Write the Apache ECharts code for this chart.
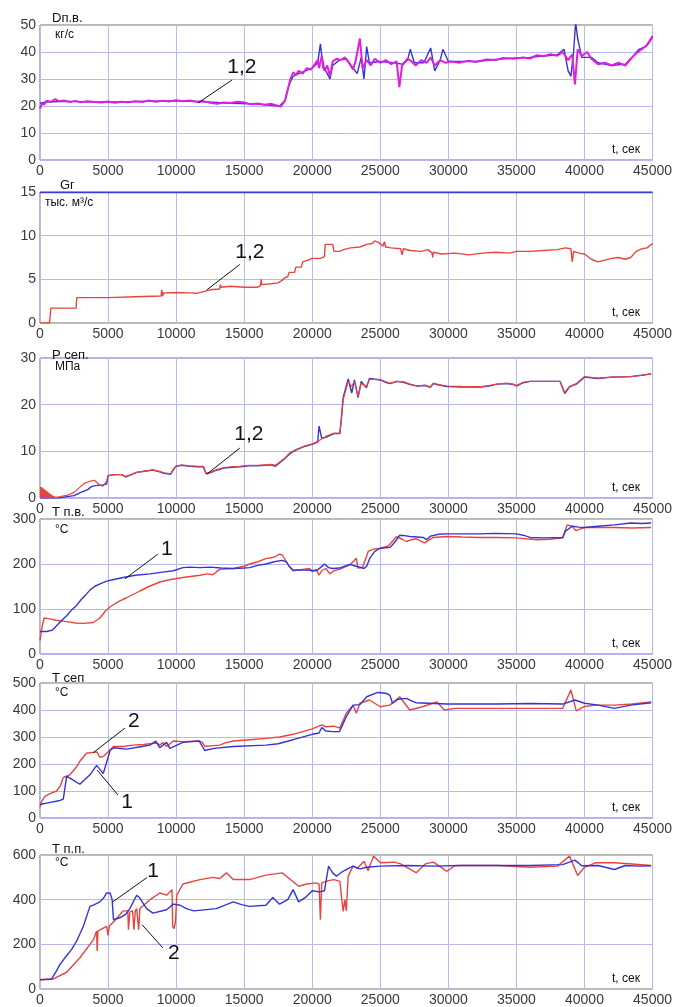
<!DOCTYPE html>
<html>
<head>
<meta charset="utf-8">
<script src="https://cdn.jsdelivr.net/npm/echarts@6/dist/echarts.min.js"></script>
<style>
html,body{margin:0;padding:0;background:#fff;}
#main{width:675px;height:1007px;}
</style>
</head>
<body>
<div id="main"></div>
<script>
// ось времени, сек
var tMax = 45000;
var tStep = 5000;

/* Dп.в., кг/с : 1 - синяя, 2 - малиновая */
var dpv1 = [[0,21],[500,21.5],[2000,21.7],[4000,21.5],[6000,21.5],[8000,21.8],[10000,21.9],[12000,21.6],[14000,21],[16000,20.7],[17600,20],[18000,22],[18300,28],[18600,31],[19000,32],[19500,33],[20000,34],[20400,36],[20600,43],[20800,34],[21000,33],[21300,30],[21500,35],[22000,37],[22500,37.5],[23000,34],[23300,32],[23600,38],[23800,30],[24000,42],[24200,36],[25000,36.5],[26000,36],[26600,35.5],[27000,37],[27200,41],[27500,36],[28200,36],[28700,41.5],[29000,33],[29400,37],[29600,41],[30000,36.5],[32000,36.5],[34000,37.5],[36000,38],[38000,39],[38500,41],[38800,33],[39000,31],[39200,40],[39350,51],[39500,45],[39800,38],[40500,38],[41000,36],[42000,35],[43000,35.5],[43500,38],[44000,41],[44500,42],[45000,46]];
var dpv2 = [[0,19],[150,21],[300,20.5],[500,22],[800,21.5],[1100,22.5],[1400,21.8],[1800,22],[2200,21.5],[2600,21.9],[3000,21.4],[3500,21.8],[4000,21.5],[4500,21.3],[5000,21.7],[5500,21.2],[6000,21.6],[6500,21.4],[7000,21.8],[7500,21.5],[8000,22],[8500,21.6],[9000,21.9],[9500,21.7],[10000,22.1],[10500,21.8],[11000,22],[11500,21.6],[12000,21.8],[12500,21.2],[13000,20.8],[13500,21.3],[14000,21.1],[14500,21.6],[15000,21.3],[15500,20.6],[16000,20.9],[16500,20.5],[17000,20.8],[17400,20.2],[17700,19.8],[18000,22],[18200,26],[18400,30],[18600,32.5],[18800,31.5],[19000,33],[19300,32],[19600,34],[19900,33.5],[20200,35.5],[20400,37],[20500,34],[20700,38.5],[20900,33],[21100,35],[21300,31],[21500,36.5],[21800,37.5],[22100,37],[22400,38],[22700,36],[23000,33.5],[23200,37],[23500,45],[23700,34],[24000,37],[24300,35],[24600,37.5],[25000,36],[25400,37],[25800,35.5],[26200,36.5],[26400,27],[26600,35],[27000,37.5],[27300,36.5],[27600,35],[28000,37],[28400,36],[28700,38],[29000,35],[29400,37],[29800,36],[30200,36.5],[30800,36],[31500,36.8],[32000,36.3],[32800,37.2],[33500,37],[34000,37.8],[34800,37.5],[35500,38],[36000,37.6],[36500,38.8],[37000,38.4],[37500,39.2],[38000,38.6],[38400,40],[38800,37],[39100,39],[39300,28],[39500,41],[39800,38.5],[40200,40],[40500,37.5],[41000,35.5],[41500,36],[42000,35],[42500,36],[43000,35],[43400,37.5],[43800,39.5],[44200,41],[44600,42.5],[45000,45.5]];

/* Gг, тыс. м3/с (1 и 2 совпадают) */
var gg = [[0,0],[700,0],[800,1.7],[2650,1.7],[2700,2.9],[5000,2.9],[7000,3.0],[8900,3.1],[8950,3.8],[9000,3.1],[9100,3.45],[10000,3.5],[11000,3.45],[11500,3.4],[12000,3.6],[12500,3.8],[13200,3.9],[13250,4.4],[13300,4.1],[14000,4.2],[15000,4.1],[16000,4.1],[16200,4.3],[16250,5.0],[16300,4.4],[17000,4.5],[17500,4.6],[17800,4.9],[18000,5.2],[18200,5.3],[18300,5.8],[18700,5.8],[18800,6.4],[19200,6.4],[19300,7.0],[19700,7.2],[20000,7.4],[20600,7.4],[20900,7.6],[20950,9.0],[21500,9.0],[21600,8.2],[22000,8.2],[22300,8.4],[22800,8.6],[23500,8.7],[24000,9.0],[24400,9.1],[24600,9.4],[24900,9.2],[25200,8.8],[25300,9.3],[25400,8.7],[25800,8.6],[26500,8.5],[26600,7.8],[26700,8.5],[27200,8.3],[28000,8.2],[28500,8.4],[28800,8.0],[28850,7.5],[28900,8.1],[29500,7.9],[30500,8.0],[31500,7.8],[32500,8.0],[33500,8.1],[34500,8.0],[35000,8.2],[36000,8.2],[37000,8.3],[38000,8.4],[38600,8.6],[39000,8.5],[39100,7.0],[39200,8.2],[39600,8.0],[40000,7.9],[40500,7.3],[41000,7.0],[41500,7.2],[42000,7.4],[42500,7.5],[43000,7.3],[43400,7.5],[43800,8.2],[44200,8.5],[44600,8.6],[45000,9.1]];

/* Pсеп., МПа */
var psep1 = [[0,0],[1000,0],[1500,0.05],[2000,0.3],[2500,0.5],[3000,1.2],[3500,1.8],[3800,2.5],[4200,2.7],[4600,2.8],[4900,3.0],[5000,4.8],[5500,5.0],[6000,5.0],[6300,4.5],[6700,5.0],[7100,5.5],[7800,5.8],[8300,6.0],[8800,5.6],[9100,5.3],[9600,5.1],[9800,6.1],[10000,6.8],[10400,7.0],[11000,6.8],[11600,6.7],[12000,6.7],[12200,5.2],[12600,5.5],[12900,5.9],[13500,6.4],[14100,6.6],[14700,6.7],[15300,6.9],[16000,6.9],[16500,7.0],[17000,7.1],[17300,6.8],[17700,7.8],[18000,8.5],[18400,9.6],[18900,10.4],[19400,11.0],[20000,11.5],[20400,12.0],[20500,15.4],[20700,12.8],[21000,13.0],[21600,13.8],[22030,13.8],[22150,17.5],[22270,21.5],[22500,24],[22640,25.5],[22900,22.5],[23100,25.3],[23370,21.5],[23600,25],[23980,23.6],[24200,25.6],[25000,25.3],[25500,24.7],[25730,24.5],[26200,25],[26700,24.8],[27200,24.3],[27700,24],[28300,24.1],[28670,23.7],[28900,24.5],[29300,24.2],[29900,23.9],[31000,23.8],[32350,23.8],[33000,24.0],[33570,24.4],[34300,24.5],[34800,24.3],[35000,24.0],[35500,24.7],[36000,25],[37000,25],[38200,25],[38550,22.4],[38900,23.8],[39400,24.4],[40000,25.9],[41000,25.6],[42000,25.9],[43400,26],[44200,26.3],[44900,26.6]];
var psep2 = [[0,0.5],[500,0.3],[1000,0.05],[1500,0.3],[2000,0.6],[2500,1.2],[3000,2.5],[3300,3.2],[3700,3.6],[4000,3.8],[4300,3.0],[4600,2.5],[4900,3.6],[5000,4.8],[5500,5.0],[6000,5.0],[6300,4.6],[6700,5.0],[7100,5.5],[7800,5.8],[8300,6.0],[8800,5.7],[9100,5.4],[9600,5.2],[9800,6.2],[10000,6.8],[10400,7.1],[11000,6.9],[11600,6.8],[12000,6.8],[12200,5.3],[12600,5.6],[12900,6.0],[13500,6.5],[14100,6.7],[14700,6.8],[15300,7.0],[16000,7.0],[16500,7.1],[17000,7.2],[17300,7.0],[17700,7.9],[18000,8.6],[18400,9.8],[18900,10.5],[19400,11.1],[20000,11.6],[20400,12.1],[20600,12.5],[21000,13.2],[21600,13.9],[22030,13.9],[22150,17],[22270,21],[22500,23.5],[22640,25],[22900,23.9],[23100,25],[23370,21.8],[23600,24.6],[23980,23.9],[24200,25.4],[25000,25.4],[25500,24.8],[25730,24.6],[26200,25],[26700,24.9],[27200,24.4],[27700,24],[28300,24.2],[28670,23.8],[28900,24.6],[29300,24.3],[29900,24],[31000,23.9],[32350,23.8],[33000,24.1],[33570,24.4],[34300,24.6],[34800,24.4],[35000,24.1],[35500,24.8],[36000,25],[37000,25],[38200,25],[38550,22.6],[38900,23.9],[39400,24.5],[40000,26],[41000,25.7],[42000,25.9],[43400,26],[44200,26.3],[44900,26.6]];
var psepStart = [[0,2.3],[150,2.2],[300,1.8],[500,1.4],[700,0.9],[900,0.5],[1100,0.2],[1300,0]];

/* Tп.в., °С */
var tpv1 = [[0,50],[500,50],[900,53],[1200,62],[1600,75],[1960,85],[2300,97],[2690,108],[3000,120],[3400,133],[3670,142],[4000,150],[4500,157],[4900,162],[5500,166],[6120,170],[7000,175],[8080,178],[9000,182],[9800,185],[10500,192],[11000,193],[11750,192],[12500,193],[13300,191],[14200,190],[15000,191],[15400,192],[16000,197],[16600,200],[17200,205],[17800,208],[18100,205],[18300,195],[18600,186],[19200,187],[19800,186],[20300,185],[20600,192],[20900,200],[21200,192],[21500,190],[22000,191],[22760,199],[23200,195],[23500,193],[23800,190],[24000,195],[24230,213],[24600,228],[25000,235],[25730,237],[26100,250],[26430,264],[26800,263],[27160,261],[27700,260],[28140,259],[28400,254],[28700,262],[29300,266],[29860,267],[31000,267],[32300,267],[33500,268],[35000,267],[35500,264],[36000,259],[37000,258],[38400,259],[38600,273],[39100,284],[39600,282],[40000,281],[41000,284],[42200,287],[43400,291],[44200,290],[44900,291]];
var tpv2 = [[0,30],[150,60],[300,80],[700,78],[1200,75],[1960,72],[2600,69],[3180,68],[3920,70],[4400,80],[4800,95],[5150,105],[5800,117],[6360,125],[7340,140],[8000,150],[8800,160],[9500,165],[10500,170],[11750,175],[12300,178],[12700,176],[13200,188],[14200,190],[15000,195],[15400,200],[16000,205],[16600,212],[17200,215],[17600,222],[17800,220],[18300,195],[18600,185],[19300,188],[19800,190],[20000,183],[20300,188],[20500,175],[20700,185],[21000,190],[21300,178],[21600,185],[22000,188],[22760,198],[23000,205],[23240,213],[23350,191],[23700,192],[24110,228],[24500,233],[25000,235],[25600,240],[26190,261],[26600,255],[26920,250],[27300,254],[27650,256],[28260,247],[28900,259],[29860,261],[31000,260],[32300,259],[33500,259],[35000,258],[36500,254],[37500,255],[38400,258],[38720,287],[39100,284],[39350,274],[40000,281],[41000,281],[42200,281],[43500,280],[44900,281]];

/* Tсеп, °С */
var tsep1 = [[0,50],[490,55],[1470,65],[1710,70],[1960,155],[2440,140],[2930,125],[3670,160],[4160,195],[4400,180],[4650,165],[5150,250],[5400,260],[6360,255],[7500,265],[8080,270],[8500,285],[8800,260],[9300,280],[9540,258],[10500,280],[11700,285],[12100,250],[12800,258],[14200,265],[16600,270],[17500,275],[18600,290],[20000,310],[20500,315],[20700,335],[21000,322],[21500,320],[22000,320],[22500,375],[23000,418],[23500,420],[24000,449],[24800,465],[25400,462],[25700,455],[25900,425],[26300,440],[26900,443],[27600,427],[29900,422],[33600,422],[36000,424],[38400,422],[39300,437],[40000,425],[41000,418],[42200,406],[43400,418],[44900,427]];
var tsep2 = [[0,40],[100,60],[370,80],[734,90],[1220,100],[1500,120],[1710,150],[2200,160],[2690,190],[3000,215],[3420,240],[4160,245],[4400,225],[4650,228],[4900,240],[5400,265],[6100,265],[6850,270],[7600,272],[8080,275],[8600,278],[8800,270],[9050,280],[9300,265],[9800,285],[10500,283],[11700,285],[11900,282],[12100,265],[12700,268],[13200,270],[13600,278],[14200,285],[15400,290],[16600,295],[17600,300],[18600,310],[19300,320],[20000,330],[20700,345],[21000,338],[21600,340],[22030,333],[22500,388],[23000,418],[23240,388],[23500,425],[24200,437],[25000,412],[25700,418],[26430,449],[27160,400],[28100,412],[29170,430],[29700,400],[30500,406],[33600,406],[36000,406],[38400,406],[39000,474],[39400,397],[40000,413],[40800,418],[42200,418],[43500,422],[44900,430]];

/* Tп.п., °С */
var tpp1 = [[0,42],[850,45],[1200,80],[1470,110],[1960,150],[2300,175],[2690,215],[3180,280],[3670,370],[4000,378],[4400,390],[4700,410],[4900,430],[5150,430],[5300,400],[5400,310],[5900,320],[6300,335],[6600,360],[7100,420],[7300,410],[7830,360],[8300,340],[9300,355],[9800,380],[10300,375],[10750,360],[11300,350],[12950,360],[14200,390],[14800,378],[15400,370],[16600,375],[17100,410],[17600,380],[18200,400],[18600,445],[19000,390],[19500,410],[20000,440],[20500,435],[20900,440],[21200,550],[21500,520],[21780,505],[22200,525],[22500,535],[23000,550],[23500,538],[24000,545],[25000,550],[27000,553],[29000,550],[31000,553],[33600,553],[36000,553],[38400,557],[39300,577],[39800,552],[41000,553],[42200,535],[43000,553],[44000,550],[44900,552]];
var tpp2 = [[0,40],[980,45],[1960,75],[2930,140],[3920,220],[4160,260],[4200,170],[4250,258],[4400,265],[4900,280],[5000,240],[5100,282],[5400,300],[6120,350],[6450,350],[6500,265],[6600,345],[6800,350],[6900,265],[7000,350],[7100,360],[7250,265],[7340,360],[8080,400],[8800,430],[9300,420],[9700,445],[9750,280],[9850,270],[9950,300],[10050,420],[10500,470],[11750,490],[12700,500],[13200,495],[13700,520],[14200,490],[15400,490],[16600,510],[17800,520],[18600,480],[19000,460],[19600,470],[20300,475],[20500,470],[20600,310],[20700,475],[21200,485],[21600,490],[22030,482],[22270,347],[22400,400],[22500,350],[22640,505],[23000,550],[23300,540],[23800,572],[24100,530],[24500,595],[25000,565],[26000,568],[26500,560],[27650,520],[28300,560],[28900,568],[29900,527],[30500,553],[33600,553],[36000,545],[38000,550],[38900,595],[39500,508],[40000,545],[40800,565],[42200,565],[43500,560],[44900,553]];

/* выноски: [панель, t1, y1, t2, y2, текст, tText, yText] */
var notes = [
    [0, 11600, 21.1, 14100, 29.6, '1,2', 14830, 34.4],
    [1, 12260, 3.8, 14680, 6.7, '1,2', 15420, 8.1],
    [2, 12260, 5.1, 14680, 10.7, '1,2', 15345, 13.7],
    [3, 6240, 167, 8660, 222, '1', 9325, 233],
    [4, 3890, 241, 6240, 333, '2', 6900, 359],
    [4, 4190, 178, 5730, 85, '1', 6390, 59],
    [5, 5360, 391, 7860, 499, '1', 8300, 526],
    [5, 7490, 288, 9030, 184, '2', 9840, 162]
];

var RED = '#e8453f';
var BLUE = '#3434d6';
var MAGENTA = '#e01ee0';

// расположение панелей
var panels = [
    {top:25,  height:135, max:50,  interval:10, title:'Dп.в.', unit:'кг/с', titleY:12,  unitY:29},
    {top:192, height:131, max:15,  interval:5,  title:'Gг',    unit:'тыс. м³/с', titleY:179, unitY:197, titleX:60, unitX:45},
    {top:358, height:140, max:30,  interval:10, title:'Р сеп.', unit:'МПа', titleY:349, unitY:361},
    {top:519, height:135, max:300, interval:100, title:'T п.в.', unit:'°С', titleY:506, unitY:524},
    {top:683, height:135, max:500, interval:100, title:'T сеп', unit:'°С', titleY:672, unitY:687},
    {top:855, height:134, max:600, interval:200, title:'T п.п.', unit:'°С', titleY:843, unitY:857}
];

var seriesData = [
    [{d:dpv1, c:BLUE, w:1.4}, {d:dpv2, c:MAGENTA, w:2}],
    [{d:gg, c:RED, w:1.4}],
    [{d:psep1, c:BLUE, w:1.4}, {d:psep2, c:RED, w:1.2}, {d:psepStart, c:RED, w:1, area:true}],
    [{d:tpv2, c:RED, w:1.4}, {d:tpv1, c:BLUE, w:1.4}],
    [{d:tsep2, c:RED, w:1.4}, {d:tsep1, c:BLUE, w:1.4}],
    [{d:tpp2, c:RED, w:1.4}, {d:tpp1, c:BLUE, w:1.4}]
];

var myChart = echarts.init(document.getElementById('main'));

var grid = [], xAxis = [], yAxis = [], series = [], graphic = [];
var font = 'Liberation Sans, Arial, sans-serif';

function plainNum(v) {
    return String(v);
}

for (var i = 0; i < panels.length; i++) {
    var p = panels[i];
    grid.push({
        left:40, right:22, top:p.top, height:p.height,
        show:true, borderColor:'#6e6e6e', borderWidth:1, backgroundColor:'#fff'
    });
    xAxis.push({
        type:'value', gridIndex:i, min:0, max:tMax, interval:tStep,
        axisLine:{show:false}, axisTick:{show:false},
        axisLabel:{color:'#3a3a3a', fontSize:14, fontFamily:font, margin:4, formatter:plainNum},
        splitLine:{show:true, lineStyle:{color:'#b9b9ef', width:1}}
    });
    yAxis.push({
        type:'value', gridIndex:i, min:0, max:p.max, interval:p.interval,
        axisLine:{show:false}, axisTick:{show:false},
        axisLabel:{color:'#3a3a3a', fontSize:14, fontFamily:font, margin:4, formatter:plainNum},
        splitLine:{show:true, lineStyle:{color:'#b9b9ef', width:1}}
    });

    var list = seriesData[i];
    for (var j = 0; j < list.length; j++) {
        var s = {
            type:'line', xAxisIndex:i, yAxisIndex:i,
            data:list[j].d, showSymbol:false, symbol:'none',
            lineStyle:{color:list[j].c, width:list[j].w},
            itemStyle:{color:list[j].c},
            animation:false, silent:true, z:3 + j
        };
        if (list[j].area) {
            s.areaStyle = {color:list[j].c, opacity:1};
        }
        if (j == 0) {
            var ml = [], mp = [];
            for (var k = 0; k < notes.length; k++) {
                var n = notes[k];
                if (n[0] != i) continue;
                ml.push([{coord:[n[1], n[2]]}, {coord:[n[3], n[4]]}]);
                mp.push({
                    coord:[n[6], n[7]], symbol:'circle', symbolSize:1,
                    itemStyle:{color:'rgba(0,0,0,0)'},
                    label:{show:true, position:'inside', formatter:n[5], color:'#111', fontSize:21, fontFamily:font}
                });
            }
            if (i == 1) {
                // синяя верхняя рамка панели Gг
                ml.push({yAxis:p.max, lineStyle:{color:'#3b3bd8', width:1.3}});
            }
            s.markLine = {
                symbol:'none', silent:true, animation:false,
                lineStyle:{color:'#111', width:1, type:'solid'},
                label:{show:false}, data:ml, z:10
            };
            s.markPoint = {silent:true, animation:false, data:mp, z:10};
        }
        series.push(s);
    }

    graphic.push({
        type:'text', left:p.titleX || 52, top:p.titleY, z:20,
        style:{text:p.title, font:'13px ' + font, fill:'#111'}
    });
    graphic.push({
        type:'text', left:p.unitX || 55, top:p.unitY, z:20,
        style:{text:p.unit, font:'12px ' + font, fill:'#111'}
    });
    graphic.push({
        type:'text', left:612, top:p.top + p.height - 16, z:20,
        style:{text:'t, сек', font:'12px ' + font, fill:'#111'}
    });
}

var option = {
    backgroundColor:'#fff',
    animation:false,
    grid:grid,
    xAxis:xAxis,
    yAxis:yAxis,
    series:series,
    graphic:graphic
};
myChart.setOption(option);
</script>
</body>
</html>
